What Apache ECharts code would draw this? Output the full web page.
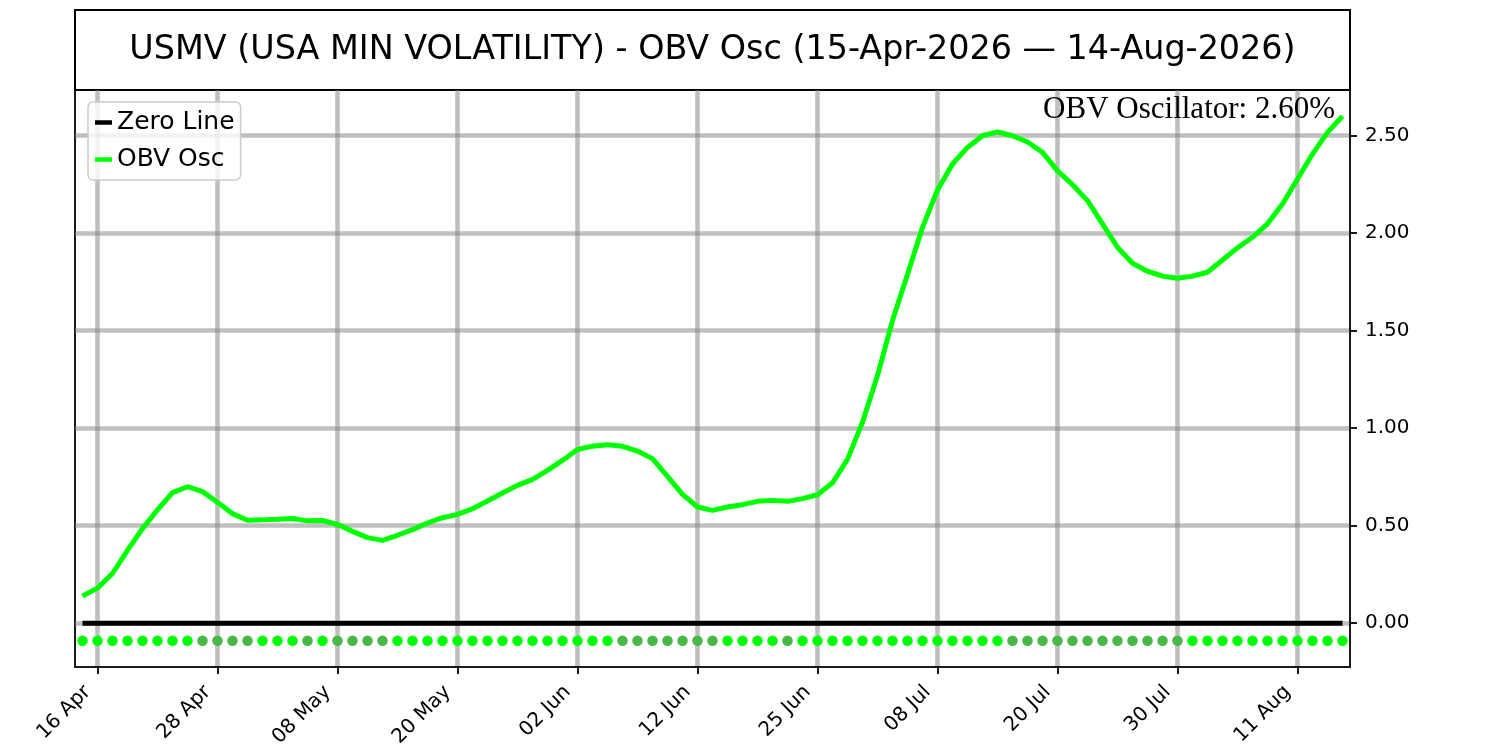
<!DOCTYPE html>
<html>
<head>
<meta charset="utf-8">
<script src="https://cdn.jsdelivr.net/npm/echarts@6/dist/echarts.min.js"></script>
<style>
html, body { margin: 0; padding: 0; background: #fff; }
#chart { width: 1500px; height: 750px; }
</style>
</head>
<body>
<div id="chart"></div>
<script>
// trading days shown on the chart
var dates = [
    '15 Apr', '16 Apr', '17 Apr', '20 Apr', '21 Apr', '22 Apr', '23 Apr', '24 Apr', '27 Apr', '28 Apr', '29 Apr', '30 Apr',
    '01 May', '04 May', '05 May', '06 May', '07 May', '08 May', '11 May', '12 May', '13 May', '14 May', '15 May',
    '18 May', '19 May', '20 May', '21 May', '22 May', '26 May', '27 May', '28 May', '29 May',
    '01 Jun', '02 Jun', '03 Jun', '04 Jun', '05 Jun', '08 Jun', '09 Jun', '10 Jun', '11 Jun', '12 Jun',
    '15 Jun', '16 Jun', '17 Jun', '18 Jun', '22 Jun', '23 Jun', '24 Jun', '25 Jun', '26 Jun', '29 Jun', '30 Jun',
    '01 Jul', '02 Jul', '06 Jul', '07 Jul', '08 Jul', '09 Jul', '10 Jul', '13 Jul', '14 Jul', '15 Jul', '16 Jul',
    '17 Jul', '20 Jul', '21 Jul', '22 Jul', '23 Jul', '24 Jul', '27 Jul', '28 Jul', '29 Jul', '30 Jul', '31 Jul',
    '03 Aug', '04 Aug', '05 Aug', '06 Aug', '07 Aug', '10 Aug', '11 Aug', '12 Aug', '13 Aug', '14 Aug'
];

// OBV oscillator (%)
var obvOsc = [
    0.14, 0.18, 0.255, 0.374, 0.485, 0.582, 0.67, 0.70, 0.675, 0.62,
    0.562, 0.528, 0.530, 0.533, 0.537, 0.525, 0.527, 0.507, 0.471, 0.439,
    0.425, 0.451, 0.48, 0.514, 0.541, 0.558, 0.587, 0.627, 0.668, 0.707,
    0.738, 0.784, 0.835, 0.891, 0.908, 0.915, 0.907, 0.883, 0.844, 0.753,
    0.661, 0.596, 0.579, 0.596, 0.608, 0.625, 0.63, 0.625, 0.639, 0.659,
    0.72, 0.84, 1.031, 1.27, 1.552, 1.79, 2.03, 2.222, 2.355, 2.44,
    2.50, 2.52, 2.50, 2.468, 2.415, 2.32, 2.249, 2.167, 2.048, 1.928,
    1.846, 1.805, 1.78, 1.769, 1.78, 1.80, 1.863, 1.925, 1.979, 2.048,
    2.15, 2.278, 2.406, 2.517, 2.60
];

var xTicks = [1, 9, 17, 25, 33, 41, 49, 57, 65, 73, 81];
var yTicks = [0, 0.5, 1, 1.5, 2, 2.5];
var markerLevel = -0.09;

var chart = echarts.init(document.getElementById('chart'));

var zeroData = [], obvData = [], markerData = [];
for (var i = 0; i < obvOsc.length; i++) {
    zeroData.push([i, 0]);
    obvData.push([i, obvOsc[i]]);
    // bright when the oscillator rises, darker when it falls
    var rising = i === 0 || obvOsc[i] >= obvOsc[i - 1];
    markerData.push({
        value: [i, markerLevel],
        itemStyle: { color: rising ? '#00ff00' : '#48b946', opacity: 1 }
    });
}

var gridColor = 'rgba(128,128,128,0.5)';
var frameColor = '#1a1a1a';
var tickFont = { fontFamily: 'DejaVu Sans', fontSize: 20, color: '#000' };

var option = {
    animation: false,
    backgroundColor: '#fff',
    graphic: [
        {
            type: 'rect',
            shape: { x: 75, y: 10, width: 1275, height: 80 },
            style: { fill: 'none', stroke: '#000', lineWidth: 2 }
        },
        {
            type: 'text',
            x: 712.5, y: 50,
            style: {
                text: 'USMV (USA MIN VOLATILITY) - OBV Osc (15-Apr-2026 \u2014 14-Aug-2026)',
                fontFamily: 'DejaVu Sans', fontSize: 33.4, fill: '#000',
                align: 'center', verticalAlign: 'middle'
            }
        },
        {
            type: 'text',
            x: 1335, y: 109.5, z: 100,
            style: {
                text: 'OBV Oscillator: ' + obvOsc[obvOsc.length - 1].toFixed(2) + '%',
                fontFamily: 'Liberation Serif', fontSize: 31, fill: '#000',
                align: 'right', verticalAlign: 'middle'
            }
        }
    ],
    grid: {
        left: 75, right: 150, top: 90, bottom: 83,
        containLabel: false, outerBoundsMode: 'none',
        show: true, borderColor: frameColor, borderWidth: 2
    },
    legend: {
        data: ['Zero Line', 'OBV Osc'],
        orient: 'vertical',
        left: 88, top: 102,
        padding: [8, 6, 8, 7],
        itemGap: 12,
        icon: 'rect', itemWidth: 17, itemHeight: 4.5,
        backgroundColor: 'rgba(255,255,255,0.8)',
        borderColor: '#cccccc', borderWidth: 1.5, borderRadius: 5,
        textStyle: { fontFamily: 'DejaVu Sans', fontSize: 25, color: '#000', lineHeight: 25 }
    },
    xAxis: {
        type: 'value',
        min: -0.5, max: 84.5,
        axisLine: { onZero: false, lineStyle: { color: frameColor, width: 2 } },
        axisTick: { customValues: xTicks, length: 7, lineStyle: { color: frameColor, width: 2 } },
        axisLabel: Object.assign({
            customValues: xTicks,
            rotate: 45, margin: 12,
            padding: [0, 14, 0, 0],
            formatter: function (v) { return dates[v]; }
        }, tickFont),
        splitLine: { show: true, lineStyle: { color: gridColor, width: 4.6 } }
    },
    yAxis: {
        type: 'value',
        position: 'right',
        min: -0.2245, max: 2.7345,
        axisLine: { show: true, onZero: false, lineStyle: { color: frameColor, width: 2 } },
        axisTick: { show: true, customValues: yTicks, length: 7, lineStyle: { color: frameColor, width: 2 } },
        axisLabel: Object.assign({
            customValues: yTicks,
            margin: 15,
            formatter: function (v) { return v.toFixed(2); }
        }, tickFont),
        splitLine: { show: true, lineStyle: { color: gridColor, width: 4.6 } }
    },
    series: [
        {
            name: 'Zero Line',
            type: 'line',
            data: zeroData,
            showSymbol: false,
            itemStyle: { color: '#000' },
            lineStyle: { color: '#000', width: 5 },
            z: 3
        },
        {
            name: 'OBV Osc',
            type: 'line',
            data: obvData,
            showSymbol: false,
            itemStyle: { color: '#00ff00' },
            lineStyle: { color: '#00ff00', width: 5 },
            z: 4
        },
        {
            name: 'Signal',
            type: 'scatter',
            data: markerData,
            symbol: 'circle',
            symbolSize: 10.5,
            z: 5
        }
    ]
};

chart.setOption(option);
</script>
</body>
</html>
